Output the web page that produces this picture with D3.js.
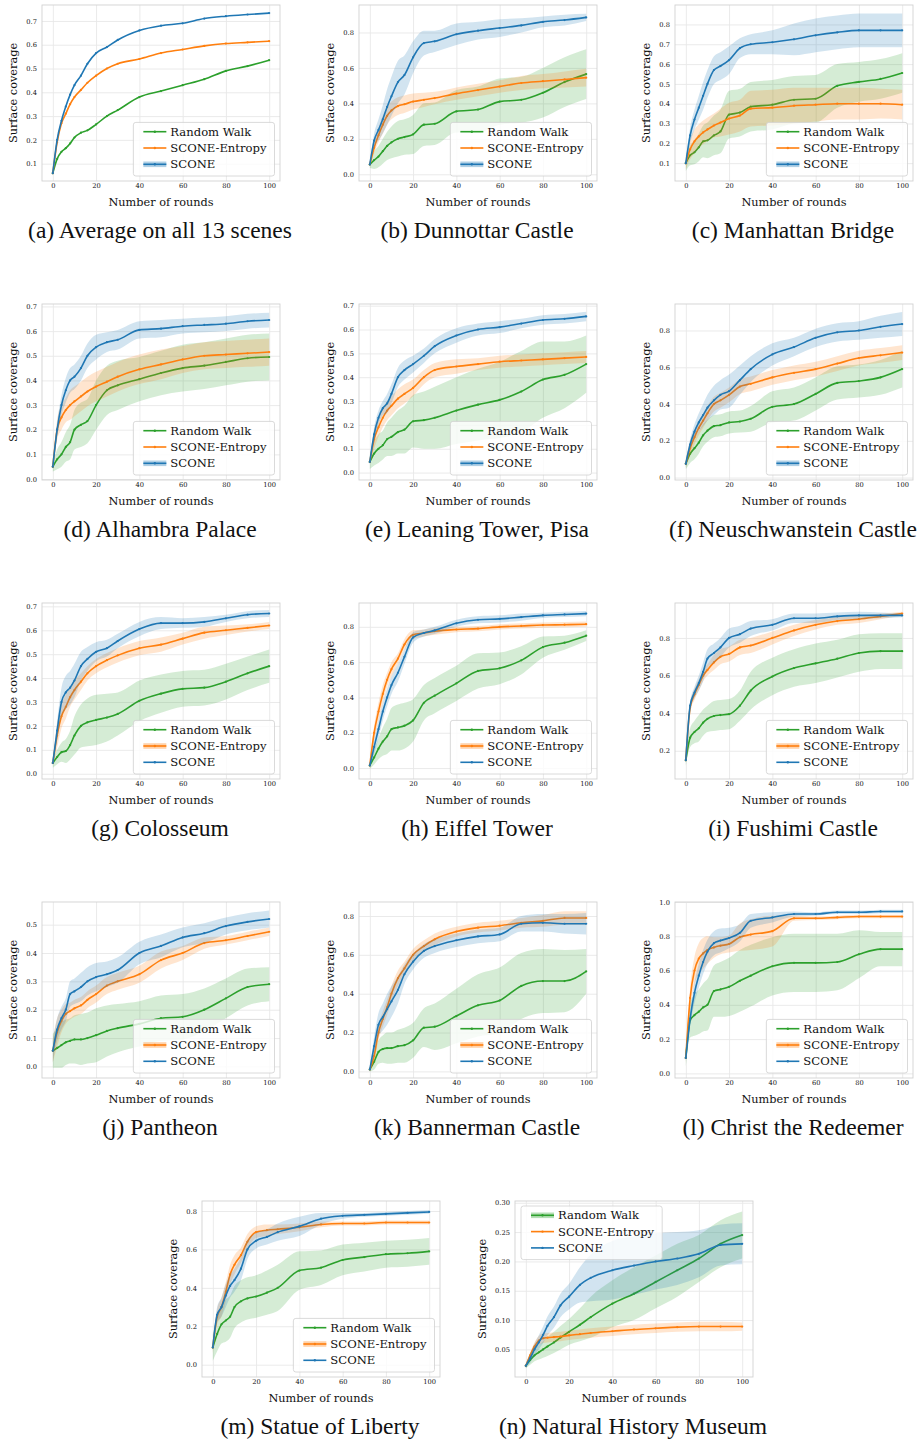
<!DOCTYPE html>
<html>
<head>
<meta charset="utf-8">
<script src="https://cdn.jsdelivr.net/npm/d3@7"></script>
<style>
  body { margin: 0; background: #fff; }
</style>
</head>
<body>
<svg id="chart" width="922" height="1439"></svg>
<script>
const rounds = [0, 2, 4, 6, 8, 10, 13, 16, 20, 25, 30, 40, 50, 60, 70, 80, 90, 100];
const seriesNames = ['Random Walk', 'SCONE-Entropy', 'SCONE'];
const xTicks = [0, 20, 40, 60, 80, 100];

const captions = [
  '(a) Average on all 13 scenes', '(b) Dunnottar Castle', '(c) Manhattan Bridge',
  '(d) Alhambra Palace', '(e) Leaning Tower, Pisa', '(f) Neuschwanstein Castle',
  '(g) Colosseum', '(h) Eiffel Tower', '(i) Fushimi Castle',
  '(j) Pantheon', '(k) Bannerman Castle', '(l) Christ the Redeemer',
  '(m) Statue of Liberty', '(n) Natural History Museum'
];
const yLimits = [
  [0.027, 0.767], [-0.038, 0.955], [0.01, 0.898],
  [-0.004, 0.71], [-0.031, 0.707], [-0.013, 0.944],
  [-0.022, 0.714], [-0.062, 0.935], [0.05, 0.986],
  [-0.041, 0.58], [-0.034, 0.872], [-0.027, 1.0],
  [-0.064, 0.852], [0.003, 0.303]
];
const yTickSteps = [0.1, 0.2, 0.1, 0.1, 0.1, 0.2, 0.1, 0.2, 0.2, 0.1, 0.2, 0.2, 0.2, 0.05];
const legendCorner = ['lr', 'lr', 'lr', 'lr', 'lr', 'lr', 'lr', 'lr', 'lr', 'lr', 'lr', 'lr', 'lr', 'ul'];
// which legend entry shows the thick band handle
const legendPatch = [2, 2, 2, 2, 2, 2, 1, 1, 1, 1, 1, 1, 1, 0];

// (a) average
const averageWalk = [0.06, 0.12, 0.15, 0.165, 0.185, 0.21, 0.23, 0.24, 0.265, 0.30, 0.325, 0.38, 0.405, 0.43, 0.455, 0.49, 0.51, 0.535];
const averageEntropy = [0.06, 0.19, 0.27, 0.31, 0.35, 0.38, 0.41, 0.44, 0.47, 0.50, 0.52, 0.54, 0.565, 0.58, 0.595, 0.605, 0.61, 0.615];
const averageScone = [0.06, 0.2, 0.28, 0.34, 0.39, 0.43, 0.47, 0.52, 0.565, 0.59, 0.62, 0.66, 0.68, 0.69, 0.71, 0.72, 0.727, 0.733];

// (b) Dunnottar Castle
const dunnottarWalk = [0.055, 0.08, 0.10, 0.13, 0.16, 0.18, 0.20, 0.21, 0.225, 0.28, 0.285, 0.355, 0.365, 0.41, 0.42, 0.46, 0.52, 0.565];
const dunnottarWalkSd = [0.02, 0.05, 0.06, 0.07, 0.08, 0.09, 0.10, 0.10, 0.11, 0.12, 0.12, 0.12, 0.13, 0.13, 0.13, 0.14, 0.14, 0.14];
const dunnottarEntropy = [0.055, 0.15, 0.22, 0.28, 0.33, 0.36, 0.385, 0.395, 0.41, 0.42, 0.43, 0.455, 0.475, 0.495, 0.515, 0.525, 0.535, 0.545];
const dunnottarEntropySd = [0.01, 0.03, 0.04, 0.05, 0.05, 0.05, 0.05, 0.05, 0.045, 0.04, 0.035, 0.035, 0.035, 0.035, 0.04, 0.04, 0.045, 0.05];
const dunnottarScone = [0.055, 0.19, 0.25, 0.31, 0.38, 0.44, 0.52, 0.56, 0.66, 0.74, 0.75, 0.79, 0.81, 0.825, 0.84, 0.86, 0.87, 0.885];
const dunnottarSconeSd = [0.01, 0.04, 0.06, 0.08, 0.10, 0.11, 0.12, 0.11, 0.09, 0.07, 0.06, 0.06, 0.05, 0.05, 0.04, 0.03, 0.03, 0.02];

// (c) Manhattan Bridge
const manhattanWalk = [0.10, 0.14, 0.155, 0.18, 0.21, 0.215, 0.24, 0.26, 0.345, 0.355, 0.385, 0.395, 0.42, 0.425, 0.49, 0.51, 0.525, 0.555];
const manhattanWalkSd = [0.04, 0.05, 0.06, 0.07, 0.08, 0.09, 0.10, 0.11, 0.12, 0.12, 0.125, 0.125, 0.12, 0.12, 0.11, 0.10, 0.10, 0.10];
const manhattanEntropy = [0.10, 0.17, 0.21, 0.235, 0.255, 0.27, 0.29, 0.305, 0.325, 0.34, 0.375, 0.38, 0.39, 0.395, 0.40, 0.40, 0.40, 0.395];
const manhattanEntropySd = [0.03, 0.05, 0.06, 0.06, 0.06, 0.06, 0.06, 0.07, 0.08, 0.08, 0.09, 0.09, 0.09, 0.085, 0.08, 0.08, 0.075, 0.075];
const manhattanScone = [0.10, 0.24, 0.32, 0.38, 0.44, 0.50, 0.57, 0.59, 0.62, 0.68, 0.70, 0.71, 0.725, 0.745, 0.76, 0.77, 0.77, 0.77];
const manhattanSconeSd = [0.01, 0.04, 0.05, 0.06, 0.07, 0.07, 0.07, 0.07, 0.07, 0.05, 0.05, 0.06, 0.08, 0.085, 0.085, 0.085, 0.085, 0.085];

// (d) Alhambra Palace
const alhambraWalk = [0.05, 0.08, 0.10, 0.13, 0.15, 0.20, 0.22, 0.235, 0.30, 0.36, 0.38, 0.405, 0.43, 0.45, 0.46, 0.475, 0.49, 0.495];
const alhambraWalkSd = [0.02, 0.04, 0.05, 0.06, 0.07, 0.08, 0.09, 0.09, 0.10, 0.10, 0.10, 0.09, 0.09, 0.095, 0.095, 0.095, 0.095, 0.095];
const alhambraEntropy = [0.05, 0.20, 0.25, 0.28, 0.30, 0.315, 0.335, 0.355, 0.375, 0.395, 0.415, 0.445, 0.465, 0.485, 0.50, 0.505, 0.51, 0.515];
const alhambraEntropySd = [0.01, 0.04, 0.05, 0.05, 0.06, 0.06, 0.06, 0.06, 0.06, 0.06, 0.06, 0.06, 0.06, 0.055, 0.055, 0.055, 0.055, 0.055];
const alhambraScone = [0.05, 0.20, 0.30, 0.36, 0.40, 0.415, 0.45, 0.50, 0.535, 0.555, 0.565, 0.605, 0.61, 0.62, 0.625, 0.63, 0.64, 0.645];
const alhambraSconeSd = [0.01, 0.03, 0.04, 0.05, 0.05, 0.05, 0.05, 0.05, 0.05, 0.04, 0.04, 0.035, 0.035, 0.03, 0.03, 0.03, 0.03, 0.03];

// (e) Leaning Tower, Pisa
const pisaWalk = [0.045, 0.08, 0.10, 0.115, 0.14, 0.15, 0.17, 0.18, 0.215, 0.22, 0.23, 0.26, 0.285, 0.305, 0.34, 0.39, 0.41, 0.455];
const pisaWalkSd = [0.03, 0.05, 0.06, 0.06, 0.07, 0.08, 0.09, 0.10, 0.11, 0.12, 0.13, 0.14, 0.15, 0.16, 0.17, 0.16, 0.14, 0.12];
const pisaEntropy = [0.045, 0.14, 0.19, 0.23, 0.26, 0.28, 0.31, 0.33, 0.355, 0.40, 0.43, 0.445, 0.455, 0.465, 0.47, 0.475, 0.48, 0.485];
const pisaEntropySd = [0.01, 0.04, 0.04, 0.04, 0.04, 0.04, 0.04, 0.04, 0.035, 0.03, 0.03, 0.03, 0.025, 0.025, 0.025, 0.025, 0.025, 0.025];
const pisaScone = [0.045, 0.16, 0.23, 0.27, 0.29, 0.33, 0.40, 0.43, 0.455, 0.49, 0.53, 0.575, 0.60, 0.61, 0.625, 0.64, 0.645, 0.655];
const pisaSconeSd = [0.01, 0.03, 0.03, 0.03, 0.04, 0.04, 0.04, 0.04, 0.035, 0.03, 0.03, 0.03, 0.025, 0.025, 0.02, 0.02, 0.02, 0.02];

// (f) Neuschwanstein Castle
const neuschwansteinWalk = [0.075, 0.13, 0.16, 0.19, 0.23, 0.255, 0.28, 0.285, 0.30, 0.305, 0.32, 0.385, 0.40, 0.455, 0.515, 0.525, 0.545, 0.59];
const neuschwansteinWalkSd = [0.03, 0.05, 0.06, 0.06, 0.06, 0.06, 0.06, 0.06, 0.06, 0.06, 0.07, 0.085, 0.09, 0.09, 0.09, 0.09, 0.095, 0.10];
const neuschwansteinEntropy = [0.075, 0.16, 0.22, 0.27, 0.31, 0.35, 0.40, 0.42, 0.45, 0.495, 0.51, 0.545, 0.57, 0.59, 0.62, 0.65, 0.665, 0.68];
const neuschwansteinEntropySd = [0.02, 0.04, 0.04, 0.04, 0.04, 0.04, 0.04, 0.04, 0.04, 0.04, 0.04, 0.04, 0.04, 0.04, 0.04, 0.04, 0.04, 0.04];
const neuschwansteinScone = [0.075, 0.18, 0.25, 0.30, 0.34, 0.38, 0.42, 0.45, 0.47, 0.53, 0.59, 0.67, 0.71, 0.76, 0.79, 0.80, 0.82, 0.835];
const neuschwansteinSconeSd = [0.02, 0.03, 0.04, 0.05, 0.06, 0.07, 0.08, 0.08, 0.09, 0.08, 0.07, 0.06, 0.05, 0.05, 0.05, 0.05, 0.06, 0.065];

// (g) Colosseum
const colosseumWalk = [0.045, 0.07, 0.09, 0.095, 0.12, 0.16, 0.20, 0.215, 0.225, 0.235, 0.25, 0.305, 0.335, 0.355, 0.36, 0.385, 0.42, 0.45];
const colosseumWalkSd = [0.02, 0.03, 0.04, 0.05, 0.06, 0.08, 0.09, 0.10, 0.105, 0.10, 0.09, 0.085, 0.08, 0.075, 0.075, 0.075, 0.07, 0.07];
const colosseumEntropy = [0.045, 0.16, 0.24, 0.28, 0.32, 0.35, 0.385, 0.42, 0.45, 0.475, 0.495, 0.525, 0.54, 0.565, 0.59, 0.60, 0.61, 0.62];
const colosseumEntropySd = [0.01, 0.05, 0.05, 0.05, 0.04, 0.04, 0.035, 0.03, 0.03, 0.03, 0.03, 0.03, 0.03, 0.025, 0.025, 0.02, 0.015, 0.015];
const colosseumScone = [0.045, 0.18, 0.30, 0.34, 0.36, 0.39, 0.45, 0.48, 0.51, 0.525, 0.555, 0.605, 0.63, 0.63, 0.635, 0.65, 0.665, 0.67];
const colosseumSconeSd = [0.01, 0.04, 0.06, 0.07, 0.07, 0.07, 0.06, 0.05, 0.04, 0.035, 0.03, 0.03, 0.025, 0.02, 0.02, 0.015, 0.015, 0.015];

// (h) Eiffel Tower
const eiffelWalk = [0.015, 0.06, 0.11, 0.15, 0.18, 0.22, 0.23, 0.24, 0.27, 0.37, 0.41, 0.48, 0.55, 0.565, 0.61, 0.685, 0.71, 0.75];
const eiffelWalkSd = [0.02, 0.04, 0.06, 0.08, 0.10, 0.12, 0.13, 0.13, 0.12, 0.10, 0.10, 0.10, 0.10, 0.09, 0.08, 0.06, 0.04, 0.03];
const eiffelEntropy = [0.015, 0.20, 0.32, 0.42, 0.50, 0.56, 0.62, 0.70, 0.755, 0.765, 0.775, 0.785, 0.79, 0.80, 0.805, 0.81, 0.812, 0.815];
const eiffelEntropySd = [0.02, 0.04, 0.05, 0.05, 0.04, 0.04, 0.03, 0.03, 0.025, 0.02, 0.02, 0.015, 0.015, 0.015, 0.015, 0.015, 0.015, 0.015];
const eiffelScone = [0.015, 0.12, 0.22, 0.32, 0.40, 0.47, 0.54, 0.63, 0.74, 0.765, 0.78, 0.82, 0.84, 0.845, 0.855, 0.865, 0.87, 0.875];
const eiffelSconeSd = [0.01, 0.04, 0.05, 0.05, 0.05, 0.05, 0.05, 0.04, 0.03, 0.02, 0.02, 0.02, 0.02, 0.02, 0.02, 0.015, 0.015, 0.015];

// (i) Fushimi Castle
const fushimiWalk = [0.15, 0.27, 0.30, 0.32, 0.35, 0.37, 0.385, 0.39, 0.395, 0.44, 0.52, 0.595, 0.64, 0.665, 0.69, 0.72, 0.73, 0.73];
const fushimiWalkSd = [0.03, 0.05, 0.06, 0.07, 0.07, 0.07, 0.08, 0.08, 0.08, 0.08, 0.10, 0.10, 0.10, 0.105, 0.10, 0.10, 0.095, 0.095];
const fushimiEntropy = [0.15, 0.43, 0.50, 0.55, 0.60, 0.63, 0.67, 0.70, 0.715, 0.75, 0.76, 0.80, 0.84, 0.87, 0.89, 0.90, 0.915, 0.93];
const fushimiEntropySd = [0.02, 0.02, 0.03, 0.03, 0.03, 0.03, 0.04, 0.04, 0.04, 0.04, 0.04, 0.035, 0.03, 0.025, 0.02, 0.02, 0.015, 0.01];
const fushimiScone = [0.15, 0.44, 0.51, 0.56, 0.62, 0.69, 0.72, 0.75, 0.80, 0.82, 0.85, 0.87, 0.905, 0.905, 0.915, 0.92, 0.92, 0.92];
const fushimiSconeSd = [0.02, 0.02, 0.03, 0.04, 0.05, 0.05, 0.05, 0.05, 0.05, 0.045, 0.04, 0.03, 0.025, 0.025, 0.02, 0.02, 0.015, 0.01];

// (j) Pantheon
const pantheonWalk = [0.055, 0.065, 0.075, 0.085, 0.09, 0.095, 0.095, 0.10, 0.11, 0.125, 0.135, 0.15, 0.17, 0.175, 0.20, 0.24, 0.28, 0.29];
const pantheonWalkSd = [0.06, 0.07, 0.08, 0.08, 0.08, 0.085, 0.09, 0.09, 0.095, 0.09, 0.085, 0.08, 0.08, 0.08, 0.075, 0.07, 0.065, 0.06];
const pantheonEntropy = [0.055, 0.12, 0.16, 0.185, 0.195, 0.205, 0.215, 0.235, 0.255, 0.285, 0.30, 0.325, 0.375, 0.40, 0.435, 0.445, 0.46, 0.475];
const pantheonEntropySd = [0.04, 0.05, 0.04, 0.035, 0.03, 0.03, 0.03, 0.03, 0.03, 0.03, 0.03, 0.03, 0.03, 0.025, 0.02, 0.015, 0.015, 0.015];
const pantheonScone = [0.055, 0.13, 0.17, 0.20, 0.255, 0.265, 0.28, 0.30, 0.315, 0.325, 0.34, 0.40, 0.425, 0.455, 0.47, 0.495, 0.51, 0.52];
const pantheonSconeSd = [0.04, 0.04, 0.04, 0.04, 0.045, 0.045, 0.05, 0.05, 0.05, 0.045, 0.045, 0.04, 0.04, 0.035, 0.035, 0.03, 0.03, 0.03];

// (k) Bannerman Castle
const bannermanWalk = [0.01, 0.05, 0.10, 0.115, 0.12, 0.12, 0.13, 0.135, 0.16, 0.225, 0.23, 0.285, 0.34, 0.365, 0.44, 0.465, 0.465, 0.515];
const bannermanWalkSd = [0.01, 0.04, 0.06, 0.07, 0.08, 0.08, 0.085, 0.09, 0.09, 0.10, 0.12, 0.14, 0.16, 0.17, 0.17, 0.165, 0.16, 0.115];
const bannermanEntropy = [0.01, 0.08, 0.20, 0.27, 0.33, 0.40, 0.48, 0.53, 0.60, 0.645, 0.68, 0.72, 0.74, 0.75, 0.765, 0.775, 0.79, 0.79];
const bannermanEntropySd = [0.01, 0.03, 0.04, 0.04, 0.04, 0.04, 0.04, 0.035, 0.03, 0.03, 0.03, 0.025, 0.025, 0.025, 0.025, 0.03, 0.035, 0.035];
const bannermanScone = [0.01, 0.13, 0.24, 0.28, 0.32, 0.36, 0.42, 0.50, 0.565, 0.62, 0.645, 0.675, 0.695, 0.705, 0.76, 0.765, 0.76, 0.76];
const bannermanSconeSd = [0.01, 0.05, 0.06, 0.07, 0.08, 0.08, 0.07, 0.05, 0.04, 0.035, 0.035, 0.035, 0.035, 0.035, 0.04, 0.045, 0.05, 0.055];

// (l) Christ the Redeemer
const christWalk = [0.09, 0.31, 0.34, 0.36, 0.385, 0.40, 0.48, 0.49, 0.505, 0.54, 0.57, 0.625, 0.645, 0.645, 0.65, 0.695, 0.725, 0.725];
const christWalkSd = [0.05, 0.10, 0.12, 0.13, 0.14, 0.15, 0.15, 0.16, 0.17, 0.18, 0.18, 0.17, 0.17, 0.17, 0.165, 0.14, 0.10, 0.10];
const christEntropy = [0.09, 0.44, 0.60, 0.67, 0.70, 0.72, 0.735, 0.745, 0.755, 0.795, 0.81, 0.83, 0.905, 0.905, 0.91, 0.915, 0.915, 0.915];
const christEntropySd = [0.03, 0.06, 0.08, 0.09, 0.09, 0.08, 0.06, 0.05, 0.05, 0.08, 0.09, 0.09, 0.015, 0.01, 0.01, 0.01, 0.01, 0.01];
const christScone = [0.09, 0.32, 0.47, 0.57, 0.65, 0.71, 0.76, 0.775, 0.79, 0.82, 0.89, 0.91, 0.93, 0.93, 0.94, 0.94, 0.945, 0.945];
const christSconeSd = [0.02, 0.04, 0.06, 0.07, 0.07, 0.07, 0.07, 0.07, 0.06, 0.05, 0.04, 0.03, 0.015, 0.01, 0.01, 0.01, 0.01, 0.01];

// (m) Statue of Liberty
const libertyWalk = [0.09, 0.16, 0.21, 0.23, 0.25, 0.30, 0.33, 0.345, 0.355, 0.375, 0.40, 0.49, 0.505, 0.545, 0.56, 0.575, 0.58, 0.59];
const libertyWalkSd = [0.07, 0.09, 0.10, 0.11, 0.11, 0.11, 0.11, 0.11, 0.11, 0.115, 0.12, 0.10, 0.09, 0.08, 0.075, 0.07, 0.07, 0.07];
const libertyEntropy = [0.09, 0.25, 0.30, 0.38, 0.47, 0.52, 0.57, 0.64, 0.69, 0.70, 0.705, 0.715, 0.73, 0.735, 0.735, 0.74, 0.74, 0.74];
const libertyEntropySd = [0.03, 0.04, 0.05, 0.05, 0.05, 0.05, 0.04, 0.04, 0.03, 0.03, 0.025, 0.02, 0.015, 0.01, 0.01, 0.01, 0.01, 0.01];
const libertyScone = [0.09, 0.26, 0.30, 0.36, 0.41, 0.44, 0.50, 0.60, 0.645, 0.665, 0.69, 0.72, 0.76, 0.775, 0.78, 0.785, 0.79, 0.795];
const libertySconeSd = [0.02, 0.04, 0.05, 0.06, 0.06, 0.06, 0.06, 0.05, 0.04, 0.04, 0.045, 0.05, 0.03, 0.015, 0.01, 0.01, 0.01, 0.01];

// (n) Natural History Museum
const museumWalk = [0.022, 0.032, 0.04, 0.045, 0.05, 0.055, 0.062, 0.07, 0.08, 0.092, 0.105, 0.128, 0.145, 0.165, 0.185, 0.205, 0.23, 0.245];
const museumWalkSd = [0.004, 0.008, 0.01, 0.012, 0.014, 0.016, 0.018, 0.02, 0.022, 0.028, 0.035, 0.04, 0.045, 0.045, 0.045, 0.04, 0.04, 0.04];
const museumEntropy = [0.022, 0.04, 0.055, 0.065, 0.069, 0.07, 0.071, 0.072, 0.074, 0.076, 0.078, 0.081, 0.084, 0.086, 0.088, 0.089, 0.089, 0.089];
const museumEntropySd = [0.003, 0.005, 0.007, 0.008, 0.008, 0.008, 0.008, 0.008, 0.008, 0.008, 0.008, 0.008, 0.008, 0.008, 0.008, 0.008, 0.008, 0.007];
const museumScone = [0.022, 0.035, 0.05, 0.062, 0.075, 0.09, 0.105, 0.125, 0.14, 0.16, 0.172, 0.185, 0.193, 0.20, 0.205, 0.213, 0.228, 0.23];
const museumSconeSd = [0.004, 0.008, 0.01, 0.012, 0.014, 0.016, 0.018, 0.02, 0.022, 0.03, 0.04, 0.05, 0.05, 0.048, 0.045, 0.04, 0.035, 0.035];

// [mean, spread] per series, per scene (same order as captions)
const scenes = [
  [[averageWalk, null], [averageEntropy, null], [averageScone, null]],
  [[dunnottarWalk, dunnottarWalkSd], [dunnottarEntropy, dunnottarEntropySd], [dunnottarScone, dunnottarSconeSd]],
  [[manhattanWalk, manhattanWalkSd], [manhattanEntropy, manhattanEntropySd], [manhattanScone, manhattanSconeSd]],
  [[alhambraWalk, alhambraWalkSd], [alhambraEntropy, alhambraEntropySd], [alhambraScone, alhambraSconeSd]],
  [[pisaWalk, pisaWalkSd], [pisaEntropy, pisaEntropySd], [pisaScone, pisaSconeSd]],
  [[neuschwansteinWalk, neuschwansteinWalkSd], [neuschwansteinEntropy, neuschwansteinEntropySd], [neuschwansteinScone, neuschwansteinSconeSd]],
  [[colosseumWalk, colosseumWalkSd], [colosseumEntropy, colosseumEntropySd], [colosseumScone, colosseumSconeSd]],
  [[eiffelWalk, eiffelWalkSd], [eiffelEntropy, eiffelEntropySd], [eiffelScone, eiffelSconeSd]],
  [[fushimiWalk, fushimiWalkSd], [fushimiEntropy, fushimiEntropySd], [fushimiScone, fushimiSconeSd]],
  [[pantheonWalk, pantheonWalkSd], [pantheonEntropy, pantheonEntropySd], [pantheonScone, pantheonSconeSd]],
  [[bannermanWalk, bannermanWalkSd], [bannermanEntropy, bannermanEntropySd], [bannermanScone, bannermanSconeSd]],
  [[christWalk, christWalkSd], [christEntropy, christEntropySd], [christScone, christSconeSd]],
  [[libertyWalk, libertyWalkSd], [libertyEntropy, libertyEntropySd], [libertyScone, libertySconeSd]],
  [[museumWalk, museumWalkSd], [museumEntropy, museumEntropySd], [museumScone, museumSconeSd]]
];

const colors = ['#2ca02c', '#ff7f0e', '#1f77b4'];
const tickFont = '"DejaVu Serif", serif';
const captionFont = '"Liberation Serif", "Times New Roman", serif';

const plotW = 238, plotH = 176;
const colLeft = [42, 359, 675];
const lastRowLeft = [202, 515];

const svg = d3.select('#chart');

captions.forEach((caption, i) => {
  const row = Math.floor(i / 3);
  const left = row < 4 ? colLeft[i % 3] : lastRowLeft[i % 3];
  const top = 5 + row * 299;
  drawPanel(i, left, top);
});

function drawPanel(i, left, top) {
  const g = svg.append('g').attr('transform', `translate(${left},${top})`);

  const x = d3.scaleLinear().domain([-5, 105]).range([0, plotW]);
  const y = d3.scaleLinear().domain(yLimits[i]).range([plotH, 0]);

  const step = yTickSteps[i];
  const decimals = step < 0.1 ? 2 : 1;
  const first = Math.ceil(yLimits[i][0] / step - 1e-9);
  const last = Math.floor(yLimits[i][1] / step + 1e-9);
  const yTicks = d3.range(first, last + 1).map(k => +(k * step).toFixed(decimals));

  // grid + tick labels
  const xAxis = g.append('g')
    .attr('transform', `translate(0,${plotH})`)
    .call(d3.axisBottom(x).tickValues(xTicks).tickSize(-plotH).tickPadding(2.6).tickFormat(d3.format('d')));
  const yAxis = g.append('g')
    .call(d3.axisLeft(y).tickValues(yTicks).tickSize(-plotW).tickPadding(5).tickFormat(d3.format(`.${decimals}f`)));

  [xAxis, yAxis].forEach(axis => {
    axis.select('.domain').remove();
    axis.selectAll('line').attr('stroke', '#e8e8e8').attr('stroke-width', 0.9);
    axis.selectAll('text')
      .attr('fill', '#111')
      .style('font-family', tickFont)
      .style('font-size', '6.7px');
  });

  g.append('rect')
    .attr('width', plotW).attr('height', plotH)
    .attr('fill', 'none').attr('stroke', '#d2d2d2').attr('stroke-width', 0.9);

  const clipId = `clip-${i}`;
  g.append('clipPath').attr('id', clipId)
    .append('rect').attr('width', plotW).attr('height', plotH);
  const plot = g.append('g').attr('clip-path', `url(#${clipId})`);

  scenes[i].forEach(([mean, spread], s) => {
    const points = rounds.map((r, k) => ({r, v: mean[k], sd: spread ? spread[k] : 0}));
    if (spread) {
      plot.append('path')
        .datum(points)
        .attr('fill', colors[s]).attr('fill-opacity', 0.2)
        .attr('d', d3.area().curve(d3.curveMonotoneX)
          .x(d => x(d.r)).y0(d => y(d.v - d.sd)).y1(d => y(d.v + d.sd)));
    }
    plot.append('path')
      .datum(points)
      .attr('fill', 'none').attr('stroke', colors[s]).attr('stroke-width', 1.6)
      .attr('d', d3.line().curve(d3.curveMonotoneX).x(d => x(d.r)).y(d => y(d.v)));
    plot.append('g').selectAll('circle').data(points).join('circle')
      .attr('cx', d => x(d.r)).attr('cy', d => y(d.v)).attr('r', 1.1)
      .attr('fill', colors[s]);
  });

  // y label, placed left of the widest tick label
  const tickWidth = d3.max(yAxis.selectAll('text').nodes(), n => n.getComputedTextLength());
  g.append('text')
    .attr('transform', `translate(${-5 - tickWidth - 9},${plotH / 2}) rotate(-90)`)
    .attr('text-anchor', 'middle')
    .style('font-family', tickFont).style('font-size', '11.3px').attr('fill', '#111')
    .text('Surface coverage');

  g.append('text')
    .attr('x', plotW / 2).attr('y', plotH + 24.5)
    .attr('text-anchor', 'middle')
    .style('font-family', tickFont).style('font-size', '11.3px').attr('fill', '#111')
    .text('Number of rounds');

  g.append('text')
    .attr('x', plotW / 2 - 1).attr('y', plotH + 57)
    .attr('text-anchor', 'middle')
    .style('font-family', captionFont).style('font-size', '23.5px').attr('fill', '#111')
    .text(captions[i]);

  drawLegend(g, i);
}

function drawLegend(g, i) {
  const legend = g.append('g');
  const box = legend.append('rect');
  const rowGap = 16.3;
  const items = legend.selectAll('g.item').data(seriesNames).join('g').attr('class', 'item')
    .attr('transform', (d, k) => `translate(0,${9.3 + k * rowGap})`);

  items.filter((d, k) => k === legendPatch[i])
    .append('rect')
    .attr('x', 10).attr('y', -2.8).attr('width', 23).attr('height', 5.6)
    .attr('fill', colors[legendPatch[i]]).attr('fill-opacity', 0.35);
  items.append('line')
    .attr('x1', 10).attr('x2', 33)
    .attr('stroke', (d, k) => colors[k]).attr('stroke-width', 1.6);
  items.append('circle')
    .attr('cx', 21.5).attr('r', 1.2)
    .attr('fill', (d, k) => colors[k]);
  const labels = items.append('text')
    .attr('x', 37).attr('y', 4)
    .style('font-family', tickFont).style('font-size', '11.6px').attr('fill', '#111')
    .text(d => d);

  const textW = d3.max(labels.nodes(), n => n.getComputedTextLength());
  const boxW = 37 + textW + 8;
  const boxH = 9.3 + 2 * rowGap + 11.7;
  box.attr('width', boxW).attr('height', boxH).attr('rx', 2.5)
    .attr('fill', '#fff').attr('fill-opacity', 0.8)
    .attr('stroke', '#d0d0d0').attr('stroke-width', 0.8);

  const bx = legendCorner[i] === 'lr' ? plotW - 5.5 - boxW : 6;
  const by = legendCorner[i] === 'lr' ? plotH - 5 - boxH : 5;
  legend.attr('transform', `translate(${bx},${by})`);
}
</script>
</body>
</html>
